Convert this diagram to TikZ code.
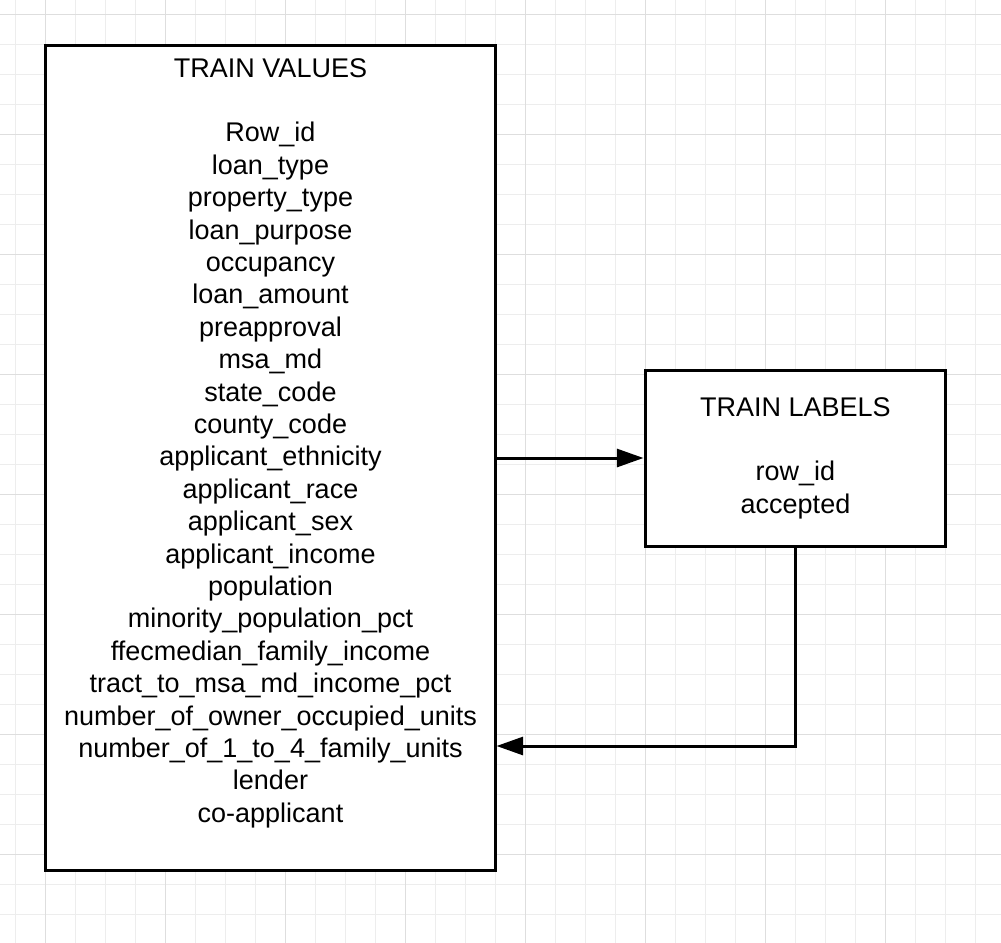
\documentclass[tikz,border=0pt]{standalone}
\usepackage{fontspec}
\setmainfont{Liberation Sans}
\usetikzlibrary{arrows.meta}
\definecolor{gridminor}{HTML}{EDEDED}
\definecolor{gridmajor}{HTML}{DEDEDE}
\tikzset{
  tablebox/.style={draw=black, line width=2.25pt, fill=none, inner sep=0pt},
  boxtext/.style={align=center, inner sep=0pt, font=\fontsize{20.25pt}{24.3pt}\selectfont},
  link/.style={draw=black, line width=2.25pt, -{Triangle[length=20pt,width=13.5pt]}},
}
\begin{document}
\begin{tikzpicture}[x=0.75pt,y=-0.75pt]
\useasboundingbox (0,0) rectangle (1001,943);
\fill[white] (0,0) rectangle (1001,943);
% grid
\foreach \i in {0,...,32} {
  \draw[gridminor, line width=0.75pt] ({15+30*\i},0) -- ({15+30*\i},943);
}
\foreach \j in {0,...,30} {
  \draw[gridminor, line width=0.75pt] (0,{14+30*\j}) -- (1001,{14+30*\j});
}
\foreach \i in {0,...,7} {
  \draw[gridmajor, line width=0.75pt] ({45+120*\i},0) -- ({45+120*\i},943);
}
\foreach \j in {0,...,7} {
  \draw[gridmajor, line width=0.75pt] (0,{14+120*\j}) -- (1001,{14+120*\j});
}
% boxes
\node[tablebox, fill=white, minimum width=337.5pt, minimum height=618.75pt] (values) at (270,457.5) {};
\node[tablebox, fill=white, minimum width=225pt, minimum height=132pt] (labels) at (795,458) {};
\node[boxtext] (valuestext) at (270.5,443) {TRAIN VALUES\\[24.3pt]
Row\_id\\
loan\_type\\
property\_type\\
loan\_purpose\\
occupancy\\
loan\_amount\\
preapproval\\
msa\_md\\
state\_code\\
county\_code\\
applicant\_ethnicity\\
applicant\_race\\
applicant\_sex\\
applicant\_income\\
population\\
minority\_population\_pct\\
ffecmedian\_family\_income\\
tract\_to\_msa\_md\_income\_pct\\
number\_of\_owner\_occupied\_units\\
number\_of\_1\_to\_4\_family\_units\\
lender\\
co-applicant};
\node[boxtext] (labelstext) at (795.5,458) {TRAIN LABELS\\[24.3pt]
row\_id\\
accepted};
% connectors
\coordinate (entry) at (0,746);
\draw[link] (values.east |- labels.west) -- (labels.west);
\draw[link] (labels.south) |- (values.east |- entry);
\end{tikzpicture}
\end{document}
